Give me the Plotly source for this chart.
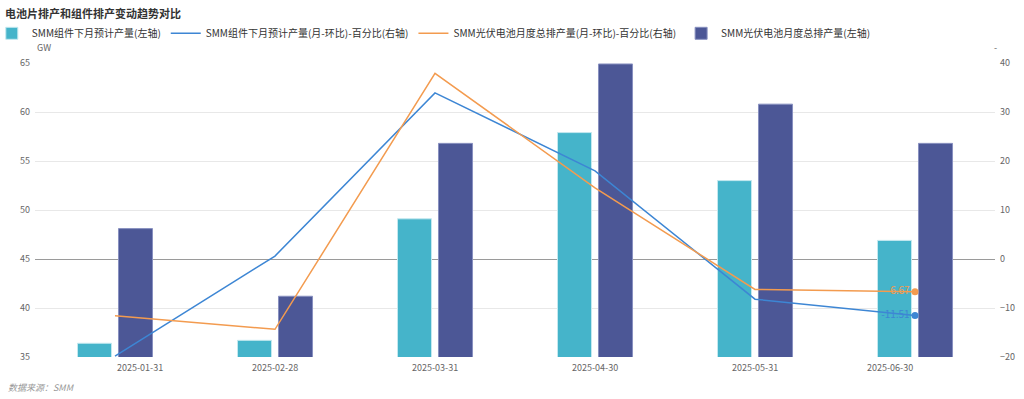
import plotly.graph_objects as go

# ---- data ----
dates = ["2025-01-31", "2025-02-28", "2025-03-31", "2025-04-30", "2025-05-31", "2025-06-30"]
module_output = [36.4, 36.7, 49.1, 57.9, 53.0, 46.9]          # SMM组件下月预计产量 (GW, left)
module_mom = [-19.8, 0.6, 33.9, 18.0, -8.2, -11.51]            # 组件 环比 % (right)
cell_mom = [-11.6, -14.35, 37.9, 14.5, -6.2, -6.67]            # 电池 环比 % (right)
cell_output = [48.1, 41.2, 56.8, 64.9, 60.8, 56.8]             # SMM光伏电池月度总排产量 (GW, left)

names = [
    "SMM组件下月预计产量(左轴)",
    "SMM组件下月预计产量(月-环比)-百分比(右轴)",
    "SMM光伏电池月度总排产量(月-环比)-百分比(右轴)",
    "SMM光伏电池月度总排产量(左轴)",
]
left_ticks = [35, 40, 45, 50, 55, 60, 65]
right_ticks = [-20, -10, 0, 10, 20, 30, 40]

TEAL = "#45b4ca"
NAVY = "#4c5796"
BLUE = "#3d86d4"
ORANGE = "#f39b4f"
FONT = "Noto Sans CJK SC"

fig = go.Figure()
fig.add_trace(go.Bar(x=dates, y=module_output, name=names[0], marker=dict(color=TEAL, line=dict(color="#c4e8ef", width=1)), yaxis="y"))
fig.add_trace(go.Scatter(x=dates, y=module_mom, name=names[1], mode="lines", line=dict(color=BLUE, width=1.5), yaxis="y2"))
fig.add_trace(go.Scatter(x=dates, y=cell_mom, name=names[2], mode="lines", line=dict(color=ORANGE, width=1.5), yaxis="y2"))
fig.add_trace(go.Bar(x=dates, y=cell_output, name=names[3], marker=dict(color=NAVY, line=dict(color="#8890c0", width=1)), yaxis="y"))

# end-point markers with value labels
for vals, col in [(cell_mom, ORANGE), (module_mom, BLUE)]:
    fig.add_trace(go.Scatter(
        x=[dates[-1]], y=[vals[-1]], mode="markers+text", yaxis="y2", showlegend=False,
        marker=dict(color=col, size=7, symbol="circle"),
        text=[f"{vals[-1]:g}"], textposition="middle left",
        textfont=dict(color=col, size=10, family=FONT), cliponaxis=False,
    ))

annotations = []
for i, d in enumerate(dates):
    anchor = "left" if i == 0 else ("right" if i == len(dates) - 1 else "center")
    annotations.append(dict(x=d, xref="x", y=0, yref="paper", yshift=-10, yanchor="middle",
                            xanchor=anchor, text=d, showarrow=False,
                            font=dict(size=9, color="#666", family=FONT)))
annotations += [
    dict(x=0, xref="paper", y=1, yref="paper", yshift=16, xanchor="left", yanchor="middle",
         text="GW", showarrow=False, font=dict(size=9, color="#666", family=FONT)),
    dict(x=1, xref="paper", y=1, yref="paper", yshift=16, xanchor="center", yanchor="middle",
         text="-", showarrow=False, font=dict(size=9, color="#666", family=FONT)),
    dict(x=-0.0297, xref="paper", y=-0.1053, yref="paper", xanchor="left", yanchor="middle",
         text="<i>数据来源：SMM</i>", showarrow=False, font=dict(size=9, color="#999", family=FONT)),
]

fig.update_layout(
    width=1024, height=399,
    margin=dict(l=34.5, r=29, t=62.7, b=42, pad=0, autoexpand=False),
    paper_bgcolor="white", plot_bgcolor="white",
    font=dict(family=FONT, color="#333"),
    title=dict(text="<b>电池片排产和组件排产变动趋势对比</b>", x=5 / 1024, xanchor="left",
               y=1 - 14 / 399, yanchor="middle", font=dict(size=11, color="#333", family=FONT)),
    legend=dict(orientation="h", x=-0.045, xanchor="left", y=1.101, yanchor="middle",
                font=dict(size=10, color="#333", family=FONT), itemwidth=30,
                bgcolor="rgba(0,0,0,0)", traceorder="normal"),
    barmode="group", bargap=0.4875, bargroupgap=0.17,
    xaxis=dict(type="category", range=[-0.5, 5.5], showticklabels=False, showgrid=False,
               showline=False, zeroline=False, ticks="", automargin=False),
    yaxis=dict(range=[35, 65], tickvals=left_ticks, showgrid=True, gridcolor="#e8e8e8", gridwidth=1,
               zeroline=False, showline=False, ticks="", tickfont=dict(size=9, color="#666", family=FONT),
               ticklabelstandoff=4, automargin=False),
    yaxis2=dict(range=[-20, 40], tickvals=right_ticks, overlaying="y", side="right", showgrid=False,
                zeroline=True, zerolinecolor="#9a9a9a", zerolinewidth=1, showline=False, ticks="",
                tickfont=dict(size=9, color="#666", family=FONT), ticklabelstandoff=4, automargin=False),
    annotations=annotations,
    showlegend=True,
)

fig.write_html("out.html", config={"displayModeBar": False},
               post_script="document.body.style.margin='0';document.body.style.overflow='hidden';")
